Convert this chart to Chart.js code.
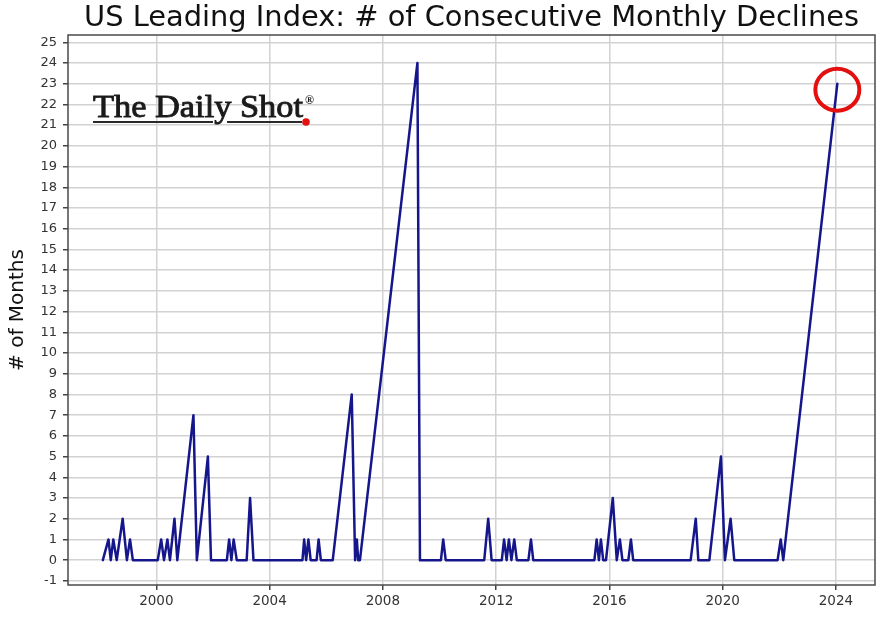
<!DOCTYPE html>
<html>
<head>
<meta charset="utf-8">
<script src="https://cdn.jsdelivr.net/npm/chart.js@4.4.1/dist/chart.umd.min.js"></script>
<style>
  html, body { margin: 0; padding: 0; background: #fff; }
</style>
</head>
<body>
<canvas id="chart" width="881" height="617"></canvas>
<script>
// US Leading Index - consecutive monthly declines (turning points)

const years = [
  1998.11, 1998.31, 1998.39, 1998.48, 1998.60, 1998.81, 1998.96, 1999.07, 1999.17,
  2000.05, 2000.17, 2000.27, 2000.39, 2000.48, 2000.64, 2000.74, 2001.31, 2001.43,
  2001.82, 2001.93, 2002.49, 2002.57, 2002.65, 2002.73, 2002.84, 2003.19, 2003.31,
  2003.43, 2005.16, 2005.22, 2005.29, 2005.37, 2005.45, 2005.66, 2005.73, 2005.81,
  2006.23, 2006.90, 2007.02, 2007.08, 2007.13, 2007.19, 2009.22, 2009.31, 2010.05,
  2010.13, 2010.22, 2011.58, 2011.72, 2011.84, 2012.20, 2012.28, 2012.37, 2012.45,
  2012.54, 2012.64, 2012.73, 2013.14, 2013.23, 2013.31, 2015.47, 2015.55, 2015.63,
  2015.70, 2015.78, 2015.88, 2016.12, 2016.26, 2016.37, 2016.46, 2016.67, 2016.76,
  2016.84, 2018.87, 2019.05, 2019.14, 2019.53, 2019.94, 2020.08, 2020.28, 2020.41,
  2021.94, 2022.05, 2022.14, 2024.05
];
const declines = [
  0, 1, 0, 1, 0, 2, 0, 1, 0,
  0, 1, 0, 1, 0, 2, 0, 7, 0,
  5, 0, 0, 1, 0, 1, 0, 0, 3,
  0, 0, 1, 0, 1, 0, 0, 1, 0,
  0, 8, 0, 1, 0, 0, 24, 0, 0,
  1, 0, 0, 2, 0, 0, 1, 0, 1,
  0, 1, 0, 0, 1, 0, 0, 1, 0,
  1, 0, 0, 3, 0, 1, 0, 0, 1,
  0, 0, 2, 0, 0, 5, 0, 2, 0,
  0, 1, 0, 23
];

const xTicks = [2000, 2004, 2008, 2012, 2016, 2020, 2024];
const yTicks = [-1, 0, 1, 2, 3, 4, 5, 6, 7, 8, 9, 10, 11, 12, 13,
                14, 15, 16, 17, 18, 19, 20, 21, 22, 23, 24, 25];

const titleText = 'US Leading Index: # of Consecutive Monthly Declines';
const yLabel = '# of Months';

function fitText(ctx, text, x, y, width, outline) {
    const w = ctx.measureText(text).width;
    ctx.save();
    ctx.translate(x, y);
    ctx.scale(width / w, 1);
    ctx.fillText(text, 0, 0);
    if (outline) {
        ctx.lineWidth = outline;
        ctx.strokeStyle = ctx.fillStyle;
        ctx.strokeText(text, 0, 0);
    }
    ctx.restore();
}

const decorPlugin = {
    id: 'decor',
    afterDatasetsDraw(chart) {
        const ctx = chart.ctx;
        const area = chart.chartArea;

        // frame around the axes
        ctx.save();
        ctx.strokeStyle = '#4a4a4a';
        ctx.lineWidth = 1.5;
        ctx.strokeRect(area.left, area.top, area.right - area.left, area.bottom - area.top);

        // red circle on the latest reading
        const last = years.length - 1;
        const cx = chart.scales.x.getPixelForValue(years[last]);
        const cy = chart.scales.y.getPixelForValue(declines[last]) + 6;
        ctx.strokeStyle = '#e3100f';
        ctx.lineWidth = 4;
        ctx.beginPath();
        ctx.ellipse(cx, cy, 22, 21, 0, 0, Math.PI * 2);
        ctx.stroke();
        ctx.restore();
    },
    afterDraw(chart) {
        const ctx = chart.ctx;
        const area = chart.chartArea;
        ctx.save();

        // title
        ctx.fillStyle = '#111';
        ctx.font = '28px "DejaVu Sans"';
        ctx.textBaseline = 'middle';
        const tw = 775;
        fitText(ctx, titleText, (area.left + area.right) / 2 - tw / 2, 19, tw);

        // y axis label
        ctx.save();
        ctx.translate(18, (area.top + area.bottom) / 2);
        ctx.rotate(-Math.PI / 2);
        ctx.font = '20px "DejaVu Sans"';
        ctx.textAlign = 'center';
        ctx.textBaseline = 'middle';
        ctx.fillStyle = '#111';
        ctx.fillText(yLabel, 0, 0);
        ctx.restore();

        // logo
        ctx.fillStyle = '#1a1a1a';
        ctx.font = '32px "Liberation Serif"';
        ctx.textBaseline = 'alphabetic';
        fitText(ctx, 'The Daily Shot', 93, 117, 210, 0.9);
        ctx.font = 'bold 12px "Liberation Serif"';
        ctx.fillText('®', 305, 104);
        ctx.strokeStyle = '#2a2a2a';
        ctx.lineWidth = 2;
        ctx.beginPath();
        ctx.moveTo(93, 122); ctx.lineTo(213, 122);
        ctx.moveTo(227, 122); ctx.lineTo(302, 122);
        ctx.stroke();
        ctx.fillStyle = '#e3100f';
        ctx.beginPath();
        ctx.arc(306, 122, 3.8, 0, Math.PI * 2);
        ctx.fill();
        ctx.restore();
    }
};

const ctx = document.getElementById('chart').getContext('2d');

new Chart(ctx, {
    type: 'line',
    data: {
        datasets: [{
            data: years.map((y, i) => ({ x: y, y: declines[i] })),
            borderColor: '#16168c',
            borderWidth: 2.5,
            borderJoinStyle: 'round',
            borderCapStyle: 'round',
            pointRadius: 0,
            tension: 0,
            fill: false
        }]
    },
    options: {
        responsive: false,
        animation: false,
        devicePixelRatio: 1,
        layout: { padding: { top: 35, right: 6, left: 0, bottom: 0 } },
        plugins: {
            legend: { display: false },
            tooltip: { enabled: false },
            title: { display: false }
        },
        scales: {
            x: {
                type: 'linear',
                min: 1996.88,
                max: 2025.38,
                afterBuildTicks: s => { s.ticks = xTicks.map(v => ({ value: v })); },
                afterFit: s => { s.height = 32; },
                grid: { color: '#d2d2d2', lineWidth: 1.5, tickColor: '#444', tickLength: 5 },
                border: { display: false },
                ticks: {
                    color: '#333',
                    font: { family: 'DejaVu Sans', size: 13.5 },
                    padding: 3,
                    maxRotation: 0,
                    autoSkip: false,
                    callback: v => String(v)
                }
            },
            y: {
                min: -1.2,
                max: 25.35,
                afterBuildTicks: s => { s.ticks = yTicks.map(v => ({ value: v })); },
                afterFit: s => { s.width = 68; },
                grid: { color: '#d2d2d2', lineWidth: 1.5, tickColor: '#444', tickLength: 5 },
                border: { display: false },
                ticks: {
                    color: '#333',
                    font: { family: 'DejaVu Sans', size: 13 },
                    padding: 6,
                    autoSkip: false,
                    callback: v => String(v)
                }
            }
        }
    },
    plugins: [decorPlugin]
});
</script>
</body>
</html>
